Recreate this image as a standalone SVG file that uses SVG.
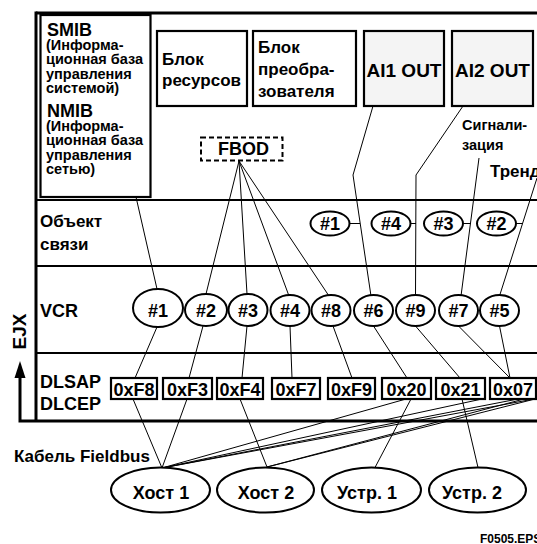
<svg xmlns="http://www.w3.org/2000/svg" width="537" height="544" viewBox="0 0 537 544">
<style>
text{font-family:"Liberation Sans",Arial,sans-serif;font-weight:bold;fill:#000}
.t19{font-size:19px}.t18{font-size:18px}.t17{font-size:17px}.t14{font-size:14.5px}.t12{font-size:12px}
.c{text-anchor:middle}
.box{fill:#fff;stroke:#000;stroke-width:2.2}
.gbox{fill:#f4f4f4;stroke:#000;stroke-width:2.2}
.ell{fill:#fff;stroke:#000;stroke-width:2}
.frame{fill:none;stroke:#000;stroke-width:3}
.row{fill:none;stroke:#000;stroke-width:2}
.ln{fill:none;stroke:#000;stroke-width:1}
</style>
<rect width="537" height="544" fill="#fff"/>

<g id="frame">
<line class="frame" x1="36" y1="13" x2="537" y2="13"/>
<line class="frame" x1="36" y1="11.5" x2="36" y2="422"/>
<line class="row" x1="36" y1="200" x2="537" y2="200"/>
<line class="row" x1="36" y1="266" x2="537" y2="266"/>
<line class="row" x1="36" y1="353" x2="537" y2="353"/>
<polyline class="frame" points="20,376 20,421 537,421"/>
<polygon points="20,361 14.5,378 25.5,378" fill="#000"/>
<text class="t19 c" transform="translate(26,331.5) rotate(-90)">EJX</text>
</g>

<g id="row-labels">
<text class="t17" x="40" y="227">Объект</text>
<text class="t17" x="40" y="250">связи</text>
<text class="t18" x="40" y="317">VCR</text>
<text class="t18" x="40" y="387.5">DLSAP</text>
<text class="t18" x="40" y="410">DLCEP</text>
<text class="t17" x="14" y="461.5">Кабель Fieldbus</text>
<text class="t12" x="480" y="542.5">F0505.EPS</text>
</g>

<g id="connectors">
<line class="ln" x1="136" y1="197" x2="157" y2="289"/>
<line class="ln" x1="239" y1="161" x2="206" y2="294"/>
<line class="ln" x1="239" y1="161" x2="247" y2="294"/>
<line class="ln" x1="239" y1="161" x2="289" y2="296"/>
<line class="ln" x1="239" y1="161" x2="329" y2="296"/>
<polyline class="ln" points="373,106 353,175 371,296"/>
<line class="ln" x1="349.5" y1="223.5" x2="360" y2="223.5"/>
<polyline class="ln" points="463,106 416,175 415.5,296"/>
<line class="ln" x1="410.5" y1="223.5" x2="416" y2="223.5"/>
<line class="ln" x1="479" y1="158" x2="461" y2="296"/>
<line class="ln" x1="463" y1="223.5" x2="470.5" y2="223.5"/>
<line class="ln" x1="537" y1="178" x2="499.5" y2="296"/>
<line class="ln" x1="516" y1="223.5" x2="522.5" y2="223.5"/>
<line class="ln" x1="157" y1="327" x2="135" y2="378"/>
<line class="ln" x1="203" y1="326" x2="189" y2="378"/>
<line class="ln" x1="247" y1="326" x2="242" y2="378"/>
<line class="ln" x1="290" y1="326" x2="292" y2="378"/>
<line class="ln" x1="333" y1="326" x2="352" y2="378"/>
<line class="ln" x1="373.5" y1="326" x2="407" y2="378"/>
<line class="ln" x1="415.5" y1="326" x2="460" y2="378"/>
<line class="ln" x1="458.5" y1="326" x2="510" y2="378"/>
<line class="ln" x1="499.5" y1="326" x2="510" y2="378"/>
<line class="ln" x1="133" y1="399" x2="162" y2="468"/>
<line class="ln" x1="187" y1="399" x2="162" y2="468"/>
<line class="ln" x1="406" y1="399" x2="162" y2="468"/>
<line class="ln" x1="482" y1="399" x2="162" y2="468"/>
<line class="ln" x1="518" y1="399" x2="162" y2="468"/>
<line class="ln" x1="534" y1="399" x2="162" y2="468"/>
<line class="ln" x1="240" y1="399" x2="267" y2="467"/>
<line class="ln" x1="524" y1="399" x2="267" y2="467"/>
<line class="ln" x1="535" y1="399" x2="267" y2="467"/>
<line class="ln" x1="411" y1="399" x2="375" y2="467.5"/>
<line class="ln" x1="462" y1="399" x2="478" y2="467.5"/>
</g>

<g id="smib-nmib">
<rect class="box" x="40.5" y="15" width="110" height="182"/>
<text class="t18" x="47" y="35.5">SMIB</text>
<text class="t14" x="46" y="49.5">(Информа-</text>
<text class="t14" x="46" y="64">ционная база</text>
<text class="t14" x="46" y="78.5">управления</text>
<text class="t14" x="46" y="93">системой)</text>
<text class="t18" x="47" y="117">NMIB</text>
<text class="t14" x="46" y="130.5">(Информа-</text>
<text class="t14" x="46" y="145">ционная база</text>
<text class="t14" x="46" y="159.5">управления</text>
<text class="t14" x="46" y="173.5">сетью)</text>
</g>

<g id="resource-block">
<rect class="box" x="157" y="31" width="90" height="75"/>
<text class="t17" x="162" y="65">Блок</text>
<text class="t17" x="162" y="86">ресурсов</text>
</g>
<g id="transducer-block">
<rect class="box" x="253" y="31" width="103" height="75"/>
<text class="t17" x="258" y="53">Блок</text>
<text class="t17" x="258" y="75">преобра-</text>
<text class="t17" x="258" y="97">зователя</text>
</g>
<g id="ai1-out">
<rect class="gbox" x="364" y="31" width="80" height="75"/>
<text class="t19 c" x="404" y="77">AI1 OUT</text>
</g>
<g id="ai2-out">
<rect class="gbox" x="452" y="31" width="81" height="75"/>
<text class="t19 c" x="492.5" y="77">AI2 OUT</text>
</g>

<g id="fbod">
<rect x="201" y="137.5" width="81.5" height="23" fill="#fff" stroke="#000" stroke-width="2" stroke-dasharray="5,3"/>
<text class="t18 c" x="243.5" y="155">FBOD</text>
</g>

<g id="labels-alarm-trend">
<text class="t14" x="462" y="130">Сигнали-</text>
<text class="t14" x="462" y="150">зация</text>
<text class="t17" x="490" y="177">Тренд</text>
</g>

<g id="comm-objects">
<g id="obj1"><ellipse class="ell" cx="330" cy="223.5" rx="19.5" ry="12"/><text class="t18 c" x="330" y="230">#1</text></g>
<g id="obj4"><ellipse class="ell" cx="391" cy="223.5" rx="19.5" ry="12"/><text class="t18 c" x="391" y="230">#4</text></g>
<g id="obj3"><ellipse class="ell" cx="443.5" cy="223.5" rx="19.5" ry="12"/><text class="t18 c" x="443.5" y="230">#3</text></g>
<g id="obj2"><ellipse class="ell" cx="496.5" cy="223.5" rx="19.5" ry="12"/><text class="t18 c" x="496.5" y="230">#2</text></g>
</g>

<g id="vcr">
<g id="vcr1"><ellipse class="ell" cx="158" cy="308" rx="25" ry="19"/><text class="t18 c" x="158" y="316.5">#1</text></g>
<g id="vcr2"><ellipse class="ell" cx="206" cy="310" rx="21" ry="16"/><text class="t18 c" x="206" y="316.5">#2</text></g>
<g id="vcr3"><ellipse class="ell" cx="248" cy="310" rx="19.5" ry="16"/><text class="t18 c" x="248" y="316.5">#3</text></g>
<g id="vcr4"><ellipse class="ell" cx="290" cy="310.5" rx="19.5" ry="15.5"/><text class="t18 c" x="290" y="316.5">#4</text></g>
<g id="vcr8"><ellipse class="ell" cx="331" cy="310.5" rx="19.5" ry="15.5"/><text class="t18 c" x="331" y="316.5">#8</text></g>
<g id="vcr6"><ellipse class="ell" cx="373.5" cy="310.5" rx="19.5" ry="15.5"/><text class="t18 c" x="373.5" y="316.5">#6</text></g>
<g id="vcr9"><ellipse class="ell" cx="415.5" cy="310.5" rx="19.5" ry="15.5"/><text class="t18 c" x="415.5" y="316.5">#9</text></g>
<g id="vcr7"><ellipse class="ell" cx="458.5" cy="310.5" rx="19.5" ry="15.5"/><text class="t18 c" x="458.5" y="316.5">#7</text></g>
<g id="vcr5"><ellipse class="ell" cx="499.5" cy="310.5" rx="19.5" ry="15.5"/><text class="t18 c" x="499.5" y="316.5">#5</text></g>
</g>

<g id="dlsap">
<g id="d-f8"><rect class="box" x="111" y="378" width="46" height="21"/><text class="t18 c" x="134" y="396">0xF8</text></g>
<g id="d-f3"><rect class="box" x="163" y="378" width="49" height="21"/><text class="t18 c" x="187.5" y="396">0xF3</text></g>
<g id="d-f4"><rect class="box" x="217" y="378" width="46" height="21"/><text class="t18 c" x="240" y="396">0xF4</text></g>
<g id="d-f7"><rect class="box" x="272" y="378" width="48" height="21"/><text class="t18 c" x="296" y="396">0xF7</text></g>
<g id="d-f9"><rect class="box" x="328" y="378" width="47" height="21"/><text class="t18 c" x="351.5" y="396">0xF9</text></g>
<g id="d-20"><rect class="box" x="382" y="378" width="49" height="21"/><text class="t18 c" x="406.5" y="396">0x20</text></g>
<g id="d-21"><rect class="box" x="436" y="378" width="49" height="21"/><text class="t18 c" x="460.5" y="396">0x21</text></g>
<g id="d-07"><rect class="box" x="490" y="378" width="46" height="21"/><text class="t18 c" x="513" y="396">0x07</text></g>
</g>

<g id="host1"><ellipse class="ell" cx="160.5" cy="490" rx="49.5" ry="22.5"/><text class="t18 c" x="161" y="499">Хост 1</text></g>
<g id="host2"><ellipse class="ell" cx="265.5" cy="490" rx="48.5" ry="22.5"/><text class="t18 c" x="266" y="499">Хост 2</text></g>
<g id="dev1"><ellipse class="ell" cx="371.5" cy="490" rx="49.5" ry="22.5"/><text class="t18 c" x="367" y="499">Устр. 1</text></g>
<g id="dev2"><ellipse class="ell" cx="477.5" cy="490" rx="48.5" ry="22.5"/><text class="t18 c" x="472" y="499">Устр. 2</text></g>
</svg>
